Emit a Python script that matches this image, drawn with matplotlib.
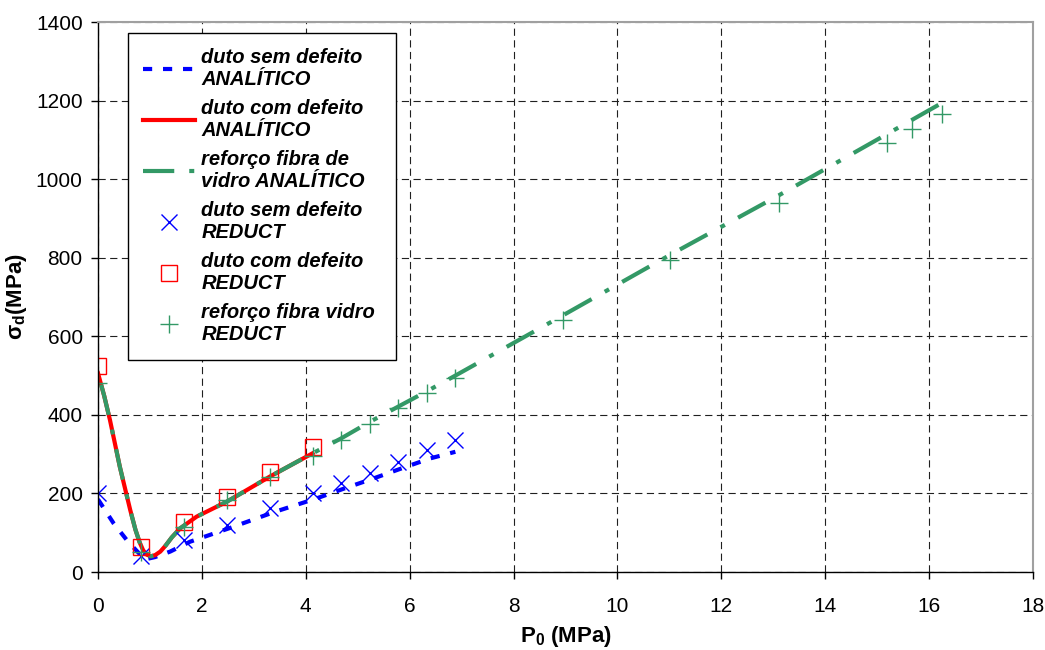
import numpy as np
import matplotlib.pyplot as plt

plt.rcParams['font.family'] = ['Liberation Sans', 'DejaVu Sans']
plt.rcParams['mathtext.fontset'] = 'custom'
plt.rcParams['mathtext.rm'] = 'Liberation Sans'
plt.rcParams['mathtext.bf'] = 'Liberation Sans:bold'
plt.rcParams['mathtext.it'] = 'Liberation Sans:italic'

# analytical curves
x_sem = [0, 0.3, 0.58, 0.9, 1.1, 1.39, 1.77, 2.54, 3.4, 4.2, 4.75, 5.3, 5.85, 6.39, 6.88]
y_sem = [185, 124, 77, 32, 38, 52, 77, 112, 153, 187, 213, 238, 264, 289, 306]

x_com = [0, 0.12, 0.23, 0.42, 0.62, 0.72, 0.8, 0.87, 0.94, 1.02, 1.1, 1.2, 1.3,
         1.42, 1.58, 1.9, 2.48, 3.31, 4.13]
y_com = [506, 448, 387, 268, 158, 108, 76, 55, 44, 40, 43, 52, 67,
         88, 111, 141, 179, 243, 302]

x_ref = x_com + [4.68, 5.23, 5.78, 6.33, 6.88, 8.96, 11.01, 13.11, 15.18, 16.18]
y_ref = y_com + [340, 382, 421, 460, 500, 654, 807, 959, 1114, 1189]

# REDUCT results
p_sem = [0, 0.826, 1.652, 2.478, 3.304, 4.13, 4.68, 5.23, 5.78, 6.33, 6.88]
s_sem = [200, 42, 81, 120, 163, 200, 226, 251, 281, 310, 336]

p_com = [0, 0.826, 1.652, 2.478, 3.304, 4.13]
s_com = [525, 64, 128, 192, 255, 317]

p_ref = [0, 0.826, 1.652, 2.478, 3.304, 4.13, 4.68, 5.23, 5.78, 6.33, 6.88,
         8.96, 11.01, 13.11, 15.18, 15.68, 16.24]
s_ref = [480, 50, 115, 183, 243, 295, 336, 378, 417, 455, 494,
         641, 794, 940, 1091, 1127, 1167]

labels = ["duto sem defeito\nANALÍTICO",
          "duto com defeito\nANALÍTICO",
          "reforço fibra de\nvidro ANALÍTICO",
          "duto sem defeito\nREDUCT",
          "duto com defeito\nREDUCT",
          "reforço fibra vidro \nREDUCT"]

green = "#339966"

fig = plt.figure(figsize=(10.45, 6.5), dpi=100)
ax = fig.add_axes([98/1045, 1-572/650, 935/1045, 550/650])

ax.plot(x_sem, y_sem, color="blue", lw=3.0, ls=(0, (2.2, 2.6)), label=labels[0])
ax.plot(x_com, y_com, color="red", lw=3.0, label=labels[1])
# drawn from the far end so the dash pattern ends on a dash there
ax.plot(x_ref[::-1], y_ref[::-1], color=green, lw=3.0,
        ls=(0, (7.5, 3.6, 1.2, 3.6)), label=labels[2])
ax.plot(p_sem, s_sem, ls="none", marker="x", ms=12, mew=1.0, color="blue", label=labels[3])
ax.plot(p_com, s_com, ls="none", marker="s", ms=11, mew=1.0, mfc="none", mec="red", label=labels[4])
ax.plot(p_ref, s_ref, ls="none", marker="+", ms=13, mew=1.0, color=green, label=labels[5])

ax.set_xlim(0, 18)
ax.set_ylim(0, 1400)
ax.set_xticks(np.arange(0, 19, 2))
ax.set_yticks(np.arange(0, 1401, 200))
ax.tick_params(direction="out", length=5, labelsize=15, width=1)
ax.tick_params(axis="x", pad=13)
ax.tick_params(axis="y", pad=6)
ax.grid(True, color="#202020", lw=0.8, ls=(0, (6.5, 4)))
for s in ["top", "right"]:
    ax.spines[s].set_color("#a0a0a0")
    ax.spines[s].set_linewidth(1.5)
for s in ["left", "bottom"]:
    ax.spines[s].set_linewidth(1.0)

ax.set_xlabel(r"$\mathbf{P}_{\mathbf{0}}$ (MPa)", fontsize=16, fontweight="bold", labelpad=6)
ax.set_ylabel(r"$\mathbf{\sigma}_{\mathbf{d}}$(MPa)", fontsize=16, fontweight="bold", labelpad=5)

leg = ax.legend(loc="upper left", bbox_to_anchor=(0.032, 0.98), borderaxespad=0,
                prop={"style": "italic", "weight": "bold", "size": 14.5},
                fancybox=False, framealpha=1, edgecolor="black",
                handlelength=2.6, handletextpad=0.3, labelspacing=0.5,
                borderpad=0.75)
leg.get_frame().set_linewidth(1.0)

fig.savefig("out.png", dpi=100)
